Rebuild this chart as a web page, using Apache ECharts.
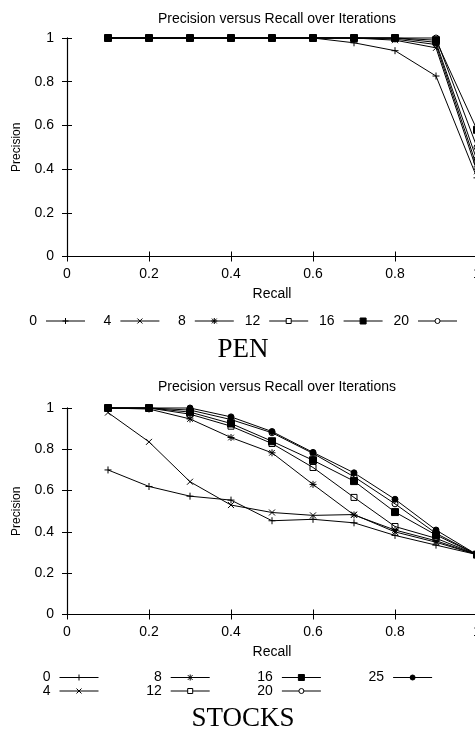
<!DOCTYPE html>
<html>
<head>
<meta charset="utf-8">
<script src="https://cdn.jsdelivr.net/npm/echarts@6/dist/echarts.min.js"></script>
<style>html,body{margin:0;padding:0;background:#fff}#c{width:475px;height:730px}</style>
</head>
<body>
<div id="c"></div>
<script>
// ---- data ----
const recall = [0.1, 0.2, 0.3, 0.4, 0.5, 0.6, 0.7, 0.8, 0.9, 1.0];

const penNames = ['0', '4', '8', '12', '16', '20'];
const pen0  = [1, 1, 1, 1, 1, 1, 0.978, 0.942, 0.826, 0.36];
const pen4  = [1, 1, 1, 1, 1, 1, 1.0, 0.99, 0.955, 0.39];
const pen8  = [1, 1, 1, 1, 1, 1, 1.0, 0.995, 0.97, 0.41];
const pen12 = [1, 1, 1, 1, 1, 1, 1.0, 1.0, 0.98, 0.44];
const pen16 = [1, 1, 1, 1, 1, 1, 1.0, 1.0, 0.99, 0.58];
const pen20 = [1, 1, 1, 1, 1, 1, 1.0, 1.0, 1.0, 0.50];

const stocksNames = ['0', '4', '8', '12', '16', '20', '25'];
const stocks0  = [0.70, 0.62, 0.573, 0.554, 0.454, 0.461, 0.444, 0.383, 0.336, 0.29];
const stocks4  = [0.978, 0.836, 0.643, 0.530, 0.494, 0.480, 0.484, 0.400, 0.350, 0.29];
const stocks8  = [1.0, 0.995, 0.947, 0.857, 0.783, 0.630, 0.482, 0.409, 0.357, 0.29];
const stocks12 = [1.0, 1.0, 0.97, 0.912, 0.828, 0.712, 0.567, 0.426, 0.369, 0.29];
const stocks16 = [1.0, 1.0, 0.98, 0.925, 0.839, 0.747, 0.646, 0.496, 0.385, 0.29];
const stocks20 = [1.0, 1.0, 0.99, 0.944, 0.880, 0.780, 0.667, 0.536, 0.393, 0.29];
const stocks25 = [1.0, 1.0, 1.0, 0.957, 0.886, 0.785, 0.686, 0.558, 0.409, 0.29];

const yTicks = [0, 0.2, 0.4, 0.6, 0.8, 1];
const chartTitle = 'Precision versus Recall over Iterations';
const xName = 'Recall';
const yName = 'Precision';
const captions = ['PEN', 'STOCKS'];

// ---- styles ----
const SANS = 'Liberation Sans, Arial, Helvetica, sans-serif';
const SERIF = 'Liberation Serif, Times New Roman, serif';
const marker = {
  '0':  {symbol: 'path://M0,5L10,5M5,0L5,10', size: 7, fill: 'none'},
  '4':  {symbol: 'path://M0,0L10,10M0,10L10,0', size: 6, fill: 'none'},
  '8':  {symbol: 'path://M0,5L10,5M5,0L5,10M1,1L9,9M1,9L9,1', size: 7, fill: 'none'},
  '12': {symbol: 'rect', size: 6, fill: 'none'},
  '16': {symbol: 'rect', size: 7, fill: '#000'},
  '20': {symbol: 'circle', size: 6, fill: 'none'},
  '25': {symbol: 'circle', size: 6, fill: '#000'}
};

function pairs(vals) { return recall.map((r, i) => [r, vals[i]]); }

function mkSeries(name, vals, gi) {
  const m = marker[name];
  return {
    type: 'line', name: name + '_' + gi,
    xAxisIndex: gi * 2, yAxisIndex: gi * 2,
    data: pairs(vals),
    symbol: m.symbol, symbolSize: m.size, showSymbol: true,
    lineStyle: {color: '#000', width: 1},
    itemStyle: {color: m.fill === 'none' ? 'rgba(0,0,0,0)' : m.fill, borderColor: '#000', borderWidth: 1},
    emphasis: {disabled: true}, silent: true, animation: false, clip: false
  };
}

const grids = [
  {left: 67, top: 38, width: 410, height: 218.5, outerBoundsMode: 'none', containLabel: false},
  {left: 67, top: 408, width: 410, height: 206.5, outerBoundsMode: 'none', containLabel: false}
];

const xAxes = [], yAxes = [];
grids.forEach((g, gi) => {
  const tick = {show: true, inside: true, length: 5, lineStyle: {color: '#000', width: 1}};
  xAxes.push({
    type: 'value', gridIndex: gi, min: 0, max: 1, interval: 0.2, position: 'bottom',
    axisLine: {show: true, lineStyle: {color: '#000', width: 1.2}},
    axisTick: tick, splitLine: {show: false},
    axisLabel: {color: '#000', fontFamily: SANS, fontSize: 14, margin: 11, hideOverlap: false},
    name: xName, nameLocation: 'middle', nameGap: 31,
    nameTextStyle: {color: '#000', fontFamily: SANS, fontSize: 14}
  });
  xAxes.push({
    type: 'value', gridIndex: gi, min: 0, max: 1, interval: 0.2, position: 'top',
    axisLine: {show: true, lineStyle: {color: '#000', width: 1}},
    axisTick: tick, axisLabel: {show: false}, splitLine: {show: false}
  });
  yAxes.push({
    type: 'value', gridIndex: gi, min: 0, max: 1, interval: 0.2, position: 'left',
    axisLine: {show: true, lineStyle: {color: '#000', width: 1.2}},
    axisTick: tick, splitLine: {show: false},
    axisLabel: {color: '#000', fontFamily: SANS, fontSize: 14, margin: 13,
      formatter: v => String(yTicks.find(t => Math.abs(t - v) < 1e-9) ?? v)},
    name: yName, nameLocation: 'middle', nameGap: 44, nameRotate: 90,
    nameTextStyle: {color: '#000', fontFamily: SANS, fontSize: 12}
  });
  yAxes.push({
    type: 'value', gridIndex: gi, min: 0, max: 1, interval: 0.2, position: 'right',
    axisLine: {show: true, lineStyle: {color: '#000', width: 1}},
    axisTick: tick, axisLabel: {show: false}, splitLine: {show: false}
  });
});

const series = [];
[pen0, pen4, pen8, pen12, pen16, pen20].forEach((v, i) => series.push(mkSeries(penNames[i], v, 0)));
[stocks0, stocks4, stocks8, stocks12, stocks16, stocks20, stocks25].forEach((v, i) => series.push(mkSeries(stocksNames[i], v, 1)));

// ---- legend drawn as graphics ----
function legendItem(name, textRight, lineStart, cy) {
  const items = [];
  items.push({type: 'text', x: textRight, y: cy, style: {text: name, font: '14px ' + SANS, fill: '#000', textAlign: 'right', textVerticalAlign: 'middle'}});
  items.push({type: 'line', shape: {x1: lineStart, y1: cy, x2: lineStart + 39, y2: cy}, style: {stroke: '#000', lineWidth: 1}});
  const cx = lineStart + 19.5;
  const m = marker[name];
  const s = (m.size - 1) / 2;
  const st = {stroke: '#000', lineWidth: 1};
  if (name === '0' || name === '8') {
    items.push({type: 'line', shape: {x1: cx - s, y1: cy, x2: cx + s, y2: cy}, style: st});
    items.push({type: 'line', shape: {x1: cx, y1: cy - s, x2: cx, y2: cy + s}, style: st});
  }
  if (name === '4' || name === '8') {
    const d = name === '8' ? s * 0.8 : s;
    items.push({type: 'line', shape: {x1: cx - d, y1: cy - d, x2: cx + d, y2: cy + d}, style: st});
    items.push({type: 'line', shape: {x1: cx - d, y1: cy + d, x2: cx + d, y2: cy - d}, style: st});
  }
  if (name === '12' || name === '16') {
    items.push({type: 'rect', shape: {x: cx - s, y: cy - s, width: 2 * s, height: 2 * s}, style: {stroke: '#000', lineWidth: 1, fill: m.fill === 'none' ? '#fff' : m.fill}});
  }
  if (name === '20' || name === '25') {
    items.push({type: 'circle', shape: {cx: cx, cy: cy, r: s}, style: {stroke: '#000', lineWidth: 1, fill: m.fill === 'none' ? '#fff' : m.fill}});
  }
  return items;
}

let graphics = [];
penNames.forEach((n, i) => {
  const base = 46 + i * 74.4;
  graphics = graphics.concat(legendItem(n, base - 9, base, 321));
});
const stocksLayout = [
  ['0', 0, 0], ['4', 0, 1], ['8', 1, 0], ['12', 1, 1], ['16', 2, 0], ['20', 2, 1], ['25', 3, 0]
];
stocksLayout.forEach(([n, col, row]) => {
  const base = 59.5 + col * 111.2;
  graphics = graphics.concat(legendItem(n, base - 9, base, 677.5 + row * 13.5));
});
captions.forEach((c, i) => {
  graphics.push({type: 'text', x: 243, y: i === 0 ? 350 : 718.5,
    style: {text: c, font: '27px ' + SERIF, fill: '#000', textAlign: 'center', textVerticalAlign: 'middle'}});
});

const chart = echarts.init(document.getElementById('c'), null, {renderer: 'canvas'});
chart.setOption({
  animation: false,
  backgroundColor: '#fff',
  title: [
    {text: chartTitle, left: 272, top: 7, textAlign: 'center',
      textStyle: {fontFamily: SANS, fontSize: 14, fontWeight: 'normal', color: '#000'}},
    {text: chartTitle, left: 272, top: 375, textAlign: 'center',
      textStyle: {fontFamily: SANS, fontSize: 14, fontWeight: 'normal', color: '#000'}}
  ],
  grid: grids,
  xAxis: xAxes,
  yAxis: yAxes,
  series: series,
  graphic: graphics
});
</script>
</body>
</html>
